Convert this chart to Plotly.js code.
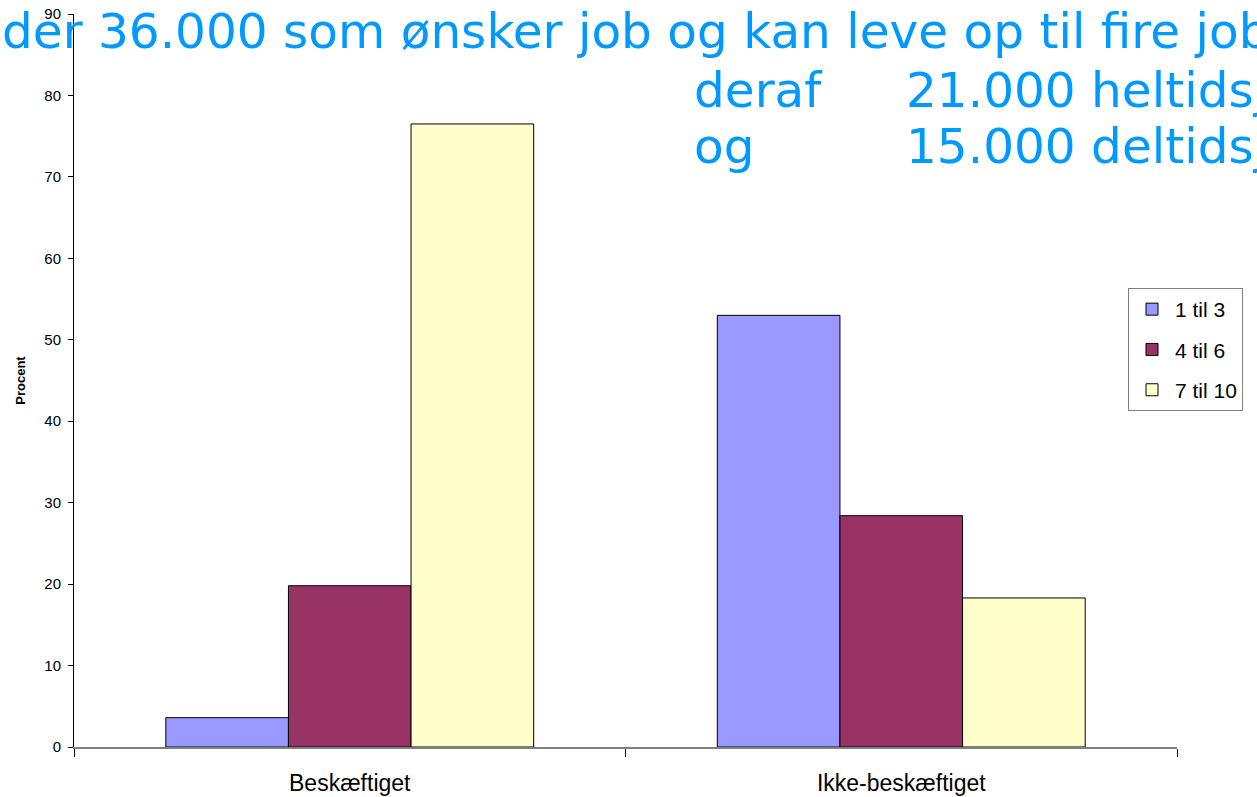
<!DOCTYPE html>
<html>
<head>
<meta charset="utf-8">
<script src="https://cdn.plot.ly/plotly-3.0.1.min.js"></script>
<style>html,body{margin:0;padding:0;background:#fff;}#chart{width:1257px;height:797px;}</style>
</head>
<body>
<div id="chart"></div>
<script>
const categories = ["Beskæftiget", "Ikke-beskæftiget"];
const seriesNames = ["1 til 3", "4 til 6", "7 til 10"];
const series1to3 = [3.6, 53.0];
const series4to6 = [19.8, 28.4];
const series7to10 = [76.5, 18.3];
const seriesColors = ["#9999FF", "#993366", "#FFFFCC"];
const titleLines = [
  "der 36.000 som ønsker job og kan leve op til fire job",
  "deraf", "21.000 heltidsjob",
  "og", "15.000 deltidsjob"
];

const values = [series1to3, series4to6, series7to10];
const traces = values.map((v, i) => ({
  type: "bar",
  name: seriesNames[i],
  x: categories,
  y: v,
  legendgroup: "g" + i,
  marker: {color: seriesColors[i], line: {color: "#000000", width: 1}},
  hoverinfo: "x+y+name"
}));

const L = 74, R = 1177, T = 14, B = 747;
const px = p => (p - L) / (R - L);
const py = p => (B - p) / (B - T);
const tFont = {family: "DejaVu Sans", size: 48.5, color: "#0099FF"};
function ann(text, x, y) {
  return {text: text, xref: "paper", yref: "paper", x: px(x), y: py(y),
    xanchor: "left", yanchor: "middle", showarrow: false, font: tFont};
}

const layout = {
  width: 1257, height: 797,
  margin: {l: L, r: 1257 - R, t: T, b: 797 - B},
  paper_bgcolor: "#ffffff", plot_bgcolor: "#ffffff",
  font: {family: "Liberation Sans", color: "#000000"},
  showlegend: true,
  barmode: "group", bargap: 0.333, bargroupgap: 0,
  xaxis: {
    type: "category", showgrid: false, zeroline: false,
    showline: true, linecolor: "#808080", linewidth: 1.5,
    ticks: "outside", tickson: "boundaries", ticklen: 8, tickcolor: "#000000",
    tickfont: {family: "Liberation Sans", size: 23}, ticklabelstandoff: 15
  },
  yaxis: {
    range: [0, 90], dtick: 10, showgrid: false, zeroline: false,
    showline: true, linecolor: "#000000", linewidth: 1,
    ticks: "outside", ticklen: 5, tickcolor: "#000000",
    tickfont: {family: "Liberation Sans", size: 15}, ticklabelstandoff: 4,
    title: {text: "Procent", font: {family: "Liberation Sans", size: 13, weight: "bold"}, standoff: 15}
  },
  legend: {
    x: px(1128), y: py(288), xanchor: "left", yanchor: "top",
    bordercolor: "#808080", borderwidth: 1, bgcolor: "#ffffff",
    font: {family: "Liberation Sans", size: 21},
    itemwidth: 36,
    traceorder: "grouped", tracegroupgap: 10
  },
  annotations: [
    ann(titleLines[0], 0, 31),
    ann(titleLines[1], 692, 90),
    ann(titleLines[2], 904, 90),
    ann(titleLines[3], 692, 146),
    ann(titleLines[4], 904, 146)
  ]
};

Plotly.newPlot("chart", traces, layout, {displayModeBar: false, responsive: false});
</script>
</body>
</html>
